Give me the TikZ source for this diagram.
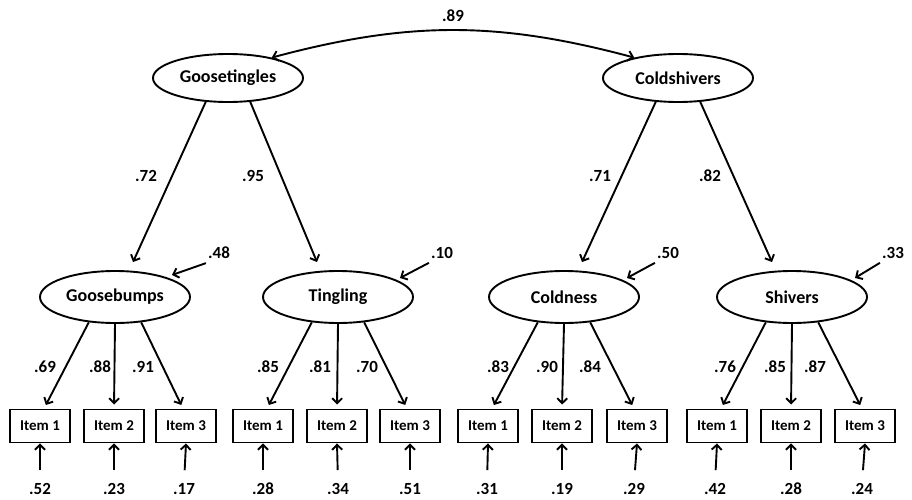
\documentclass[tikz,border=0pt]{standalone}
\usepackage{fontspec}
\setmainfont{Carlito}
\usetikzlibrary{shapes.geometric,arrows.meta,calc}
\begin{document}
\begin{tikzpicture}[x=1pt,y=-1pt,
 lat/.style={ellipse,draw,line width=1.9pt,minimum width=150pt,minimum height=52pt,inner sep=0pt,font=\bfseries\fontsize{18}{20}\selectfont},
 itm/.style={rectangle,draw,line width=1.9pt,minimum width=60pt,minimum height=33pt,inner sep=0pt,font=\bfseries\fontsize{15}{17}\selectfont},
 num/.style={inner sep=0pt,font=\bfseries\fontsize{17}{19}\selectfont},
 arr/.style={line width=1.9pt,-{Straight Barb[length=5pt,width=10pt]}},
 dbl/.style={line width=1.9pt,{Straight Barb[length=5pt,width=10pt]}-{Straight Barb[length=5pt,width=10pt]}},
]
\useasboundingbox[fill=white] (0,0) rectangle (912,500);

% higher-order factors
\node[lat,minimum height=48pt] (gt) at (228,78) {Goosetingles};
\node[lat,minimum height=48pt] (cs) at (678,78) {Coldshivers};
\draw[dbl] (gt.25) to[bend left=15] node[num,above=8pt] (r89) {.89} (cs.155);

% first-order factors
\node[lat] (gb) at (115,297) {Goosebumps};
\node[lat] (tg) at (338,297) {Tingling};
\node[lat] (cd) at (564,297) {Coldness};
\node[lat] (sh) at (792,297) {Shivers};

% second-order loadings
\draw[arr] (gt.227) -- ([shift={(18,-8)}]gb.north);
\draw[arr] (gt.313) -- ([shift={(-21,-8)}]tg.north);
\draw[arr] (cs.227) -- ([shift={(18,-8)}]cd.north);
\draw[arr] (cs.313) -- ([shift={(-20,-8)}]sh.north);
\node[num] (l72) at (146,176) {.72};
\node[num] (l95) at (253,176) {.95};
\node[num] (l71) at (600,176) {.71};
\node[num] (l82) at (710,176) {.82};

% disturbances
\node[num] (d48) at (219,253) {.48};
\node[num] (d10) at (442,253) {.10};
\node[num] (d50) at (668,253) {.50};
\node[num] (d33) at (893,253) {.33};
\draw[arr] ([shift={(-2,4)}]d48.south west) -- ([shift={(57,-22)}]gb.center);
\draw[arr] ([shift={(-2,4)}]d10.south west) -- ([shift={(62,-19)}]tg.center);
\draw[arr] ([shift={(-2,4)}]d50.south west) -- ([shift={(63,-19)}]cd.center);
\draw[arr] ([shift={(-2,4)}]d33.south west) -- ([shift={(63,-19)}]sh.center);

% items
\foreach \f/\a/\b/\c in {gb/40/114/186, tg/263/337/410, cd/488/562/637, sh/717/791/865}{
  \node[itm] (\f1) at (\a,426) {Item 1};
  \node[itm] (\f2) at (\b,426) {Item 2};
  \node[itm] (\f3) at (\c,426) {Item 3};
  \draw[arr,shorten >=4pt] (\f.224) -- ([xshift=4pt]\f1.north);
  \draw[arr,shorten >=4pt] (\f.south) -- (\f2.north);
  \draw[arr,shorten >=4pt] (\f.316) -- ([xshift=-3pt]\f3.north);
}

% first-order loadings
\foreach \n/\x/\t in {a/45/.69, b/100/.88, c/143/.91, d/268/.85, e/320/.81, f/367/.70,
                     g/498/.83, h/547/.90, i/590/.84, j/725/.76, k/775/.85, l/815/.87}{
  \node[num] (ld\n) at (\x,367) {\t};
}

% item errors
\foreach \f/\i/\x/\t in {gb/1/40/.52, gb/2/114/.23, gb/3/184/.17,
                        tg/1/263/.28, tg/2/338/.34, tg/3/410/.51,
                        cd/1/487/.31, cd/2/562/.19, cd/3/634/.29,
                        sh/1/715/.42, sh/2/791/.28, sh/3/862/.24}{
  \node[num] (e\f\i) at (\x,489) {\t};
  \draw[arr,shorten <=13pt] (e\f\i.north) -- (\f\i.south);
}
\end{tikzpicture}
\end{document}
